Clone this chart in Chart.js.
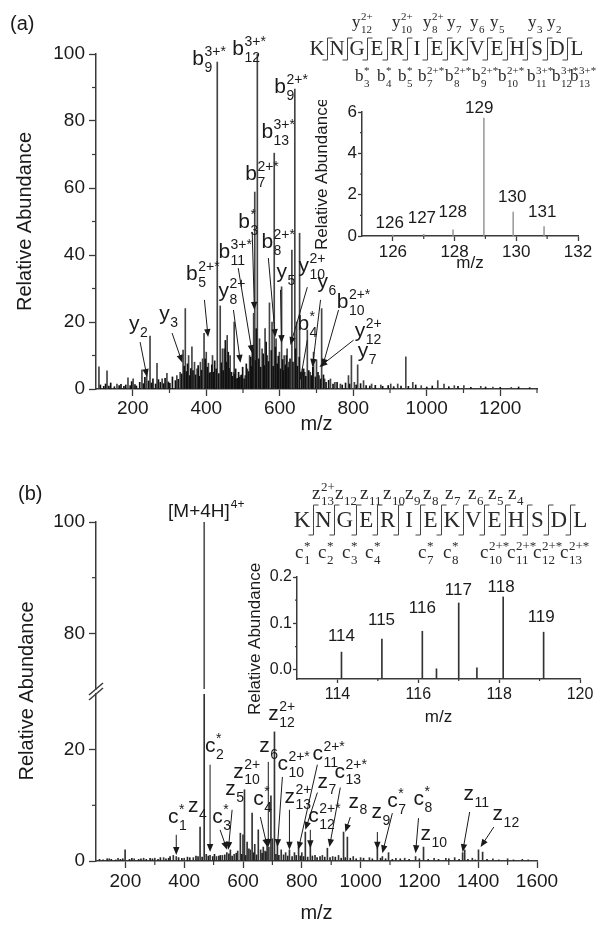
<!DOCTYPE html>
<html>
<head>
<meta charset="utf-8">
<script src="https://cdn.jsdelivr.net/npm/chart.js@4.4.1/dist/chart.umd.min.js"></script>
<style>
  body { margin: 0; background: #fff; }
  #page { position: relative; width: 604px; height: 937px; overflow: hidden; background: #fff; }
  canvas { position: absolute; }
</style>
</head>
<body>
<div id="page">
  <canvas id="mainA"></canvas>
  <canvas id="insetA"></canvas>
  <canvas id="lowerB"></canvas>
  <canvas id="upperB"></canvas>
  <canvas id="insetB"></canvas>
</div>
<script>
// ---- panel (a): ETD/CID spectrum, labelled peaks
const peakMzA = [108,130,157,187,201,225,238,247,266,280,
  293,320,329,337,343,352,361,368,375,384,
  390,394,400,406,412,417,430,438,444,449,
  457,465,474,476,482,493,506,512,518,525,
  529,532,539,545,552,560,566,572,579,585,
  590,599,605,612,620,625,633,641,646,654,
  662,668,675,683,692,700,707,714,722,738,
  750,765,787,795,803,812,828,850,875,902,
  921,943,962,985,1030,1047,1075,1101,1147,1180,
  1230];
const peakIntA = [6.6,5.4,1.5,3.3,3.0,5.7,5.0,15.8,7.7,3.0,
  4.7,4.0,5.0,11.6,24.0,10.0,12.6,8.0,6.0,8.0,
  9.0,16.6,11.0,7.7,5.0,10.0,97.6,24.8,12.0,12.0,
  16.0,10.0,5.0,20.0,3.0,4.0,4.0,6.0,10.0,12.6,
  22.6,58.8,100,15.0,12.0,18.0,10.0,25.7,20.0,70.4,
  15.0,11.0,30.5,10.0,12.0,8.0,41.5,89.5,20.0,46.5,
  6.0,5.0,17.6,5.0,11.0,8.7,4.0,24.0,3.0,3.0,
  2.0,1.5,4.0,10.0,2.0,7.2,2.5,1.5,1.2,1.5,
  1.5,9.6,2.0,1.0,2.5,1.5,1.0,1.0,0.8,0.6,
  0.5];
// baseline grass of panel (a)
const noiseMzA = [112,121,126,135,140,150,163,168,176,181,
  193,197,206,210,219,229,233,243,251,255,
  262,270,275,284,288,297,301,308,316,324,
  333,340,346,349,355,358,364,371,378,381,
  387,397,403,409,415,420,423,427,434,441,
  446,452,455,460,462,468,471,477,480,485,
  488,491,496,499,503,509,515,521,523,527,
  534,536,543,548,555,558,563,569,577,582,
  588,593,596,602,608,610,615,618,623,628,
  636,643,648,653,659,665,671,679,686,690,
  697,704,711,719,726,733,745,756,770,779,
  790,808,820,835,845,860,880,895,910,930,
  950,970,1000,1015,1060,1085,1120,1160,1200,1250,
  1280];
const noiseIntA = [1.2,0.8,1.5,0.9,1.8,0.7,1.0,1.4,0.8,1.2,
  1.0,2.2,1.3,0.9,2.0,1.6,3.5,2.4,1.8,3.0,
  1.5,2.8,2.0,1.6,3.2,2.1,1.7,3.6,2.5,2.9,
  4.5,6.8,5.2,7.5,4.0,6.1,5.5,4.2,7.0,3.8,
  5.6,9.0,6.5,4.8,7.2,5.0,8.4,6.0,4.6,7.8,
  5.5,14.5,8.0,11.0,6.2,5.0,3.8,4.5,6.0,3.2,
  5.0,3.5,4.2,6.5,3.0,7.5,5.2,9.5,6.8,12.0,
  8.5,18.0,9.0,6.5,10.5,7.0,14.0,8.2,11.5,6.8,
  12.5,7.5,9.8,6.0,8.8,5.5,7.2,10.0,6.4,9.0,
  8.0,12.0,6.8,9.5,4.5,6.0,3.8,5.5,4.0,6.5,
  3.6,5.0,3.0,4.2,2.0,2.6,1.5,2.0,1.2,1.8,
  1.5,1.2,1.6,1.0,0.9,1.1,0.8,1.0,0.7,0.9,
  0.8,1.2,0.6,0.9,0.7,0.8,0.5,0.6,0.5,0.6,
  0.4];
// reporter region inset (a)
const reporterMzA = [126.0,127.0,127.95,128.95,129.9,130.9];
const reporterIntA = [0.05,0.08,0.3,5.7,1.16,0.45];
const reporterLabelsA = ['126','127','128','129','130','131'];

// ---- panel (b)
const peakMzB = [145,175,199,230,262,300,330,363,373,400,
  431,454,468,475,488,510,530,545,557,570,
  582,591,600,605,614,620,625,631,640,652,
  660,669,675,682,688,695,700,707,717,730,
  745,758,775,789,800,812,829,845,870,887,
  905,925,942,955,975,1000,1030,1057,1074,1095,
  1120,1150,1187,1214,1250,1290,1320,1347,1354,1380,
  1401,1415,1450,1500,1550];
const peakIntB = [0.4,0.5,2.0,0.4,0.5,0.5,0.6,1.0,0.8,0.5,
  0.6,6.1,100,1.2,1.0,0.8,1.0,1.5,2.0,1.2,
  1.8,5.0,4.7,12.8,3.4,2.2,2.0,8.6,3.0,5.6,
  2.0,2.5,1.8,3.0,2.5,11.7,4.0,23.2,3.0,2.0,
  1.5,2.0,1.5,2.5,1.5,5.2,3.5,1.0,1.0,2.3,
  0.8,1.0,5.2,4.3,0.8,0.6,0.6,2.3,0.8,1.5,
  0.5,0.5,0.8,2.5,0.5,0.5,0.6,1.5,2.0,0.5,
  2.0,1.6,0.4,0.4,0.3];
const noiseMzB = [112,124,138,152,167,183,191,214,222,245,
  253,271,284,292,311,319,338,347,352,381,
  392,411,419,440,447,461,482,497,503,518,
  523,538,552,563,577,596,609,636,646,665,
  678,712,722,738,752,767,781,795,806,820,
  836,852,862,878,896,914,934,948,965,985,
  1010,1040,1068,1085,1108,1135,1165,1200,1230,1265,
  1300,1335,1365,1390,1430,1470,1520,1570];
const noiseIntB = [0.3,0.2,0.4,0.3,0.2,0.3,0.4,0.3,0.5,0.3,
  0.4,0.3,0.5,0.4,0.3,0.6,0.4,0.5,0.8,0.6,
  0.5,0.7,0.6,0.9,0.8,0.7,0.9,0.8,1.2,0.9,
  1.0,1.1,1.3,0.9,1.4,1.2,1.0,1.5,1.1,1.4,
  1.6,1.2,1.0,1.1,0.9,0.8,1.0,0.9,0.8,0.7,
  0.9,0.6,0.8,0.7,0.6,0.7,0.5,0.6,0.5,0.4,
  0.5,0.4,0.5,0.4,0.3,0.4,0.3,0.4,0.3,0.3,
  0.4,0.3,0.3,0.2,0.3,0.2,0.2,0.2];
// reporter region inset (b)
const reporterMzB = [114.1,115.1,116.1,116.45,117.0,117.45,118.1,119.1];
const reporterIntB = [0.038,0.066,0.083,0.002,0.144,0.004,0.157,0.081];
const reporterLabelsB = ['114','115','116','117','118','119'];

// ion labels: [letter, subscript, superscript], label at (m/z, abundance), optional arrow
const ionsA = [
  {ion: ['b','9','3+*'], at: [362, 96.7]},
  {ion: ['b','12','3+*'], at: [471, 99.7]},
  {ion: ['b','9','2+*'], at: [585, 88.4]},
  {ion: ['b','13','3+*'], at: [550, 74.9]},
  {ion: ['b','7','2+*'], at: [506, 62.4]},
  {ion: ['b','3','*'], at: [487, 48.1], arrow: [525, 46.9, 531, 23.6]},
  {ion: ['b','11','3+*'], at: [433, 39.1], arrow: [487, 36.1, 525, 10.7]},
  {ion: ['b','8','2+*'], at: [550, 42.1], arrow: [569, 39.1, 588, 15.5]},
  {ion: ['b','5','2+*'], at: [345, 32.5], arrow: [395, 26.6, 405, 15.5]},
  {ion: ['y','8','2+'], at: [433, 27.5], arrow: [474, 23.6, 493, 7.8]},
  {ion: ['y','5',''], at: [591, 33.1], arrow: [602, 29.6, 605, 13.7]},
  {ion: ['y','10','2+'], at: [651, 34.9], arrow: [675, 30.4, 629, 13.1]},
  {ion: ['y','6',''], at: [703, 30.1], arrow: [711, 26.6, 689, 6.6]},
  {ion: ['b','10','2+*'], at: [755, 24.2], arrow: [760, 23.6, 716, 6.6]},
  {ion: ['b','4','*'], at: [648, 17.6], arrow: [675, 14.6, 656, 2.7]},
  {ion: ['y','12','2+'], at: [804, 15.5], arrow: [801, 14.6, 708, 6.6]},
  {ion: ['y','7',''], at: [812, 9.6]},
  {ion: ['y','2',''], at: [190, 17.6], arrow: [220, 14.0, 239, 3.6]},
  {ion: ['y','3',''], at: [272, 20.6], arrow: [307, 16.7, 335, 7.8]}
];
const ionsB = [
  {ion: ['c','1','*'], at: [345, 6.8], arrow: [373, 4.7, 373, 1.1]},
  {ion: ['z','4',''], at: [413, 8.8]},
  {ion: ['c','2','*'], at: [471, 19.6], arrow: [488, 17.3, 488, 1.6]},
  {ion: ['c','3','*'], at: [495, 6.8], arrow: [522, 5.6, 546, 2.0]},
  {ion: ['z','5',''], at: [540, 11.9], arrow: [563, 9.2, 550, 2.0]},
  {ion: ['z','10','2+'], at: [567, 15.0]},
  {ion: ['c','4','*'], at: [635, 10.1], arrow: [659, 7.9, 683, 2.5]},
  {ion: ['z','6',''], at: [655, 19.5], arrow: [686, 17.8, 686, 2.5]},
  {ion: ['z','12','2+'], at: [686, 25.4]},
  {ion: ['c','10','2+*'], at: [717, 16.4], arrow: [734, 15.1, 717, 2.5]},
  {ion: ['z','13','2+'], at: [741, 10.5], arrow: [758, 9.2, 758, 2.0]},
  {ion: ['c','11','2+*'], at: [836, 18.2], arrow: [853, 17.3, 788, 2.0]},
  {ion: ['z','7',''], at: [853, 13.2], arrow: [853, 12.3, 812, 5.6]},
  {ion: ['c','12','2+*'], at: [822, 7.0], arrow: [829, 5.6, 829, 2.3]},
  {ion: ['c','13','2+*'], at: [911, 15.0], arrow: [931, 13.2, 894, 2.5]},
  {ion: ['z','8',''], at: [959, 9.6], arrow: [965, 7.9, 948, 5.2]},
  {ion: ['z','9',''], at: [1037, 7.7], arrow: [1057, 5.2, 1057, 2.0]},
  {ion: ['c','7','*'], at: [1091, 9.7], arrow: [1108, 8.6, 1074, 1.4]},
  {ion: ['c','8','*'], at: [1180, 10.1], arrow: [1197, 7.7, 1187, 1.4]},
  {ion: ['z','10',''], at: [1204, 3.8]},
  {ion: ['z','11',''], at: [1350, 11.0], arrow: [1371, 8.8, 1347, 1.6]},
  {ion: ['z','12',''], at: [1449, 7.4], arrow: [1453, 6.1, 1408, 2.5]}
];

// peptide maps
const peptide = 'KNGERIEKVEHSDL';
const seqTopA = [['y','12','2+',352],['y','10','2+',392],['y','8','2+',423],['y','7','',447],['y','6','',470],['y','5','',490],['y','3','',528],['y','2','',547]];
const seqBotA = [['b','3','*',355],['b','4','*',377],['b','5','*',398],['b','7','2+*',418],['b','8','2+*',445],['b','9','2+*',472],['b','10','2+*',498],['b','11','3+*',527],['b','12','3+*',552],['b','13','3+*',570]];
const seqTopB = [['z','13','2+',312],['z','12','',335],['z','11','',360],['z','10','',383],['z','9','',405],['z','8','',423],['z','7','',445],['z','6','',468],['z','5','',488],['z','4','',508]];
const seqBotB = [['c','1','*',295],['c','2','*',318],['c','3','*',342],['c','4','*',365],['c','7','*',418],['c','8','*',443],['c','10','2+*',480],['c','11','2+*',507],['c','12','2+*',533],['c','13','2+*',560]];

const AXIS = '#3a3a3a';
const INK = '#1a1a1a';
const SANS = '"Liberation Sans", Arial, sans-serif';
const SERIF = '"Liberation Serif", "Times New Roman", serif';

Chart.defaults.font.family = SANS;
Chart.defaults.color = INK;
Chart.defaults.animation = false;
Chart.defaults.plugins.legend.display = false;
Chart.defaults.plugins.tooltip.enabled = false;

function place(id, left, top, w, h) {
  const c = document.getElementById(id);
  c.width = w; c.height = h;
  c.style.left = left + 'px'; c.style.top = top + 'px';
  return c;
}

function sticks(mz, ab, color, base) {
  const ds = {
    data: mz.map((m, i) => ({x: m, y: ab[i]})),
    backgroundColor: color, borderWidth: 0, barThickness: 1, grouped: false, clip: 0
  };
  if (base !== undefined) ds.base = base;
  return ds;
}

function tickList(from, to, step) {
  const out = [];
  for (let v = from; v <= to + 1e-9; v += step) out.push(+v.toFixed(4));
  return out;
}

function axis(o) {
  return {
    type: 'linear', min: o.min, max: o.max, offset: false, display: o.display !== false,
    afterBuildTicks: s => { s.ticks = tickList(o.first, o.last, o.step).map(v => ({value: v})); },
    afterFit: s => { if (s.isHorizontal()) s.height = o.size; else s.width = o.size; },
    ticks: { autoSkip: false, maxRotation: 0, padding: o.pad, font: {size: o.font}, color: INK,
             callback: o.fmt || (v => v) },
    grid: { offset: false, drawOnChartArea: false, tickLength: o.tick, tickColor: AXIS, tickWidth: 1.3 },
    border: { color: AXIS, width: 1.5 },
    title: o.title ? { display: true, text: o.title, font: {size: o.tfont}, color: INK, padding: o.tpad }
                   : { display: false }
  };
}

function minorTicks(chart, id, values, len) {
  const s = chart.scales[id], ctx = chart.ctx;
  ctx.save();
  ctx.strokeStyle = AXIS; ctx.lineWidth = 1.2;
  values.forEach(v => {
    const p = s.getPixelForValue(v);
    ctx.beginPath();
    if (s.isHorizontal()) { ctx.moveTo(p, s.top); ctx.lineTo(p, s.top + len); }
    else { ctx.moveTo(s.right, p); ctx.lineTo(s.right - len, p); }
    ctx.stroke();
  });
  ctx.restore();
}

function ionText(ctx, x, y, ion, size, family) {
  ctx.textAlign = 'left'; ctx.textBaseline = 'alphabetic';
  ctx.font = size + 'px ' + family;
  ctx.fillText(ion[0], x, y);
  const w = ctx.measureText(ion[0]).width + 0.5;
  ctx.font = Math.round(size * 0.66) + 'px ' + family;
  if (ion[1]) ctx.fillText(ion[1], x + w, y + size * 0.33);
  if (ion[2]) ctx.fillText(ion[2], x + w, y - size * 0.42);
}

function arrow(ctx, x1, y1, x2, y2) {
  const a = Math.atan2(y2 - y1, x2 - x1), L = 8, W = 3.2;
  ctx.beginPath(); ctx.moveTo(x1, y1); ctx.lineTo(x2 - L * 0.6 * Math.cos(a), y2 - L * 0.6 * Math.sin(a)); ctx.stroke();
  ctx.beginPath();
  ctx.moveTo(x2, y2);
  ctx.lineTo(x2 - L * Math.cos(a) + W * Math.sin(a), y2 - L * Math.sin(a) - W * Math.cos(a));
  ctx.lineTo(x2 - L * Math.cos(a) - W * Math.sin(a), y2 - L * Math.sin(a) + W * Math.cos(a));
  ctx.closePath(); ctx.fill();
}

function drawIons(chart, list, yId, size) {
  const ctx = chart.ctx, xs = chart.scales.x, ys = chart.scales[yId];
  ctx.save();
  ctx.fillStyle = INK; ctx.strokeStyle = INK; ctx.lineWidth = 1;
  list.forEach(d => {
    ionText(ctx, xs.getPixelForValue(d.at[0]), ys.getPixelForValue(d.at[1]), d.ion, size, SANS);
    if (d.arrow) {
      const a = d.arrow;
      arrow(ctx, xs.getPixelForValue(a[0]), ys.getPixelForValue(a[1]), xs.getPixelForValue(a[2]), ys.getPixelForValue(a[3]));
    }
  });
  ctx.restore();
}

function drawSequence(ctx, s) {
  ctx.save();
  ctx.fillStyle = '#2a2a2a';
  ctx.font = s.size + 'px ' + SERIF; ctx.textAlign = 'center'; ctx.textBaseline = 'alphabetic';
  peptide.split('').forEach((ch, i) => ctx.fillText(ch, s.x0 + i * s.step, s.base));
  ctx.strokeStyle = '#444'; ctx.lineWidth = 1;
  for (let i = 0; i < peptide.length - 1; i++) {
    const x = Math.round(s.x0 + (i + 0.5) * s.step) + 0.5;
    ctx.beginPath();
    ctx.moveTo(x + s.hook, s.top); ctx.lineTo(x, s.top); ctx.lineTo(x, s.bottom); ctx.lineTo(x - s.hook, s.bottom);
    ctx.stroke();
  }
  s.above.forEach(r => ionText(ctx, r[3], s.aboveY, r, s.ionSize, SERIF));
  s.below.forEach(r => ionText(ctx, r[3], s.belowY, r, s.ionSize, SERIF));
  ctx.restore();
}

function peakLabels(chart, labels, mz, ab, size) {
  const ctx = chart.ctx, xs = chart.scales.x, ys = chart.scales.y;
  ctx.save();
  ctx.fillStyle = INK; ctx.font = size + 'px ' + SANS; ctx.textAlign = 'center'; ctx.textBaseline = 'middle';
  labels.forEach((t, i) => ctx.fillText(t, xs.getPixelForValue(mz[i]), ys.getPixelForValue(ab[i])));
  ctx.restore();
}

function verticalTitle(ctx, text, x, y, size) {
  ctx.save();
  ctx.fillStyle = INK; ctx.font = size + 'px ' + SANS;
  ctx.translate(x, y); ctx.rotate(-Math.PI / 2);
  ctx.textAlign = 'center'; ctx.textBaseline = 'middle';
  ctx.fillText(text, 0, 0);
  ctx.restore();
}

// ---------------- panel (a) main
new Chart(place('mainA', 0, 0, 604, 440), {
  type: 'bar',
  data: { datasets: [sticks(noiseMzA, noiseIntA, '#111'), sticks(peakMzA, peakIntA, '#444')] },
  options: {
    responsive: false,
    layout: { padding: { top: 54, right: 67, left: 0, bottom: 0 } },
    scales: {
      x: axis({min: 100, max: 1300, first: 200, last: 1200, step: 200, size: 51, pad: 1, tick: 7, font: 19,
               title: 'm/z', tfont: 20, tpad: {top: 0, bottom: 4}}),
      y: axis({min: 0, max: 100, first: 0, last: 100, step: 20, size: 96, pad: 4, tick: 7, font: 19,
               title: 'Relative Abundance', tfont: 20, tpad: {top: 13, bottom: 0}})
    }
  },
  plugins: [{
    id: 'extrasA',
    afterDraw(chart) {
      const ctx = chart.ctx;
      minorTicks(chart, 'x', tickList(300, 1300, 200), 4);
      minorTicks(chart, 'y', tickList(10, 90, 20), 4);
      drawIons(chart, ionsA, 'y', 21);
      ctx.save();
      ctx.fillStyle = INK; ctx.font = '20px ' + SANS; ctx.textAlign = 'left'; ctx.textBaseline = 'alphabetic';
      ctx.fillText('(a)', 10, 30);
      ctx.restore();
      drawSequence(ctx, {x0: 317, step: 20, base: 55, size: 21, top: 38, bottom: 60, hook: 5,
        above: seqTopA, aboveY: 27, below: seqBotA, belowY: 81, ionSize: 17});
    }
  }]
});

// ---------------- panel (a) inset
new Chart(place('insetA', 300, 100, 300, 174), {
  type: 'bar',
  data: { datasets: [sticks(reporterMzA, reporterIntA, '#a0a0a0')] },
  options: {
    responsive: false,
    layout: { padding: { top: 12, right: 22, left: 0, bottom: 0 } },
    scales: {
      x: axis({min: 125, max: 132, first: 126, last: 132, step: 2, size: 38, pad: 1, tick: 5, font: 17,
               title: 'm/z', tfont: 17, tpad: {top: 0, bottom: 0}}),
      y: axis({min: 0, max: 6, first: 0, last: 6, step: 2, size: 62, pad: 1, tick: 4, font: 17,
               title: 'Relative Abundance', tfont: 17, tpad: {top: 12, bottom: 0}})
    }
  },
  plugins: [{
    id: 'extrasInsetA',
    afterDraw(chart) {
      minorTicks(chart, 'x', [127, 129, 131], 3);
      minorTicks(chart, 'y', [1, 3, 5], 2);
      peakLabels(chart, reporterLabelsA, [125.9, 126.94, 127.94, 128.8, 129.87, 130.84], [0.63, 0.87, 1.16, 6.2, 1.89, 1.16], 17);
    }
  }]
});

// ---------------- panel (b), lower part of the broken axis
new Chart(place('lowerB', 0, 440, 604, 497), {
  type: 'bar',
  data: { datasets: [sticks(noiseMzB, noiseIntB, '#222'), sticks(peakMzB, peakIntB, '#333')] },
  options: {
    responsive: false,
    layout: { padding: { top: 254, right: 67, left: 0, bottom: 0 } },
    scales: {
      x: axis({min: 100, max: 1600, first: 200, last: 1600, step: 200, size: 76, pad: 2, tick: 7, font: 19,
               title: 'm/z', tfont: 20, tpad: {top: 0, bottom: 12}}),
      y: axis({min: 0, max: 30, first: 0, last: 20, step: 20, size: 96, pad: 4, tick: 7, font: 19})
    }
  },
  plugins: [{
    id: 'extrasLowerB',
    afterDraw(chart) {
      const ctx = chart.ctx;
      minorTicks(chart, 'x', tickList(300, 1500, 200), 4);
      minorTicks(chart, 'y', [10], 4);
      drawIons(chart, ionsB, 'y', 21);
      ctx.save();
      ctx.fillStyle = INK; ctx.font = '20px ' + SANS; ctx.textBaseline = 'alphabetic'; ctx.textAlign = 'left';
      ctx.fillText('(b)', 18, 60);
      ctx.restore();
      verticalTitle(ctx, 'Relative Abundance', 27, 251, 20);
      ctx.save();
      ctx.translate(0, -440);
      drawSequence(ctx, {x0: 302, step: 21.4, base: 527, size: 23, top: 505, bottom: 535, hook: 5,
        above: seqTopB, aboveY: 499, below: seqBotB, belowY: 558, ionSize: 19});
      ctx.restore();
    }
  }]
});

// ---------------- panel (b), upper part of the broken axis
new Chart(place('upperB', 0, 500, 604, 209), {
  type: 'bar',
  data: { datasets: [sticks(peakMzB, peakIntB, '#555')] },
  options: {
    responsive: false,
    layout: { padding: { top: 22, right: 67, left: 0, bottom: 20 } },
    scales: {
      x: axis({min: 100, max: 1600, first: 200, last: 1600, step: 200, size: 0, pad: 0, tick: 0, font: 19, display: false}),
      y: axis({min: 70, max: 100, first: 80, last: 100, step: 20, size: 96, pad: 4, tick: 7, font: 19})
    }
  },
  plugins: [{
    id: 'extrasUpperB',
    afterDraw(chart) {
      const ctx = chart.ctx, ys = chart.scales.y, xs = chart.scales.x;
      minorTicks(chart, 'y', [90], 4);
      const ax = ys.right, yb = chart.chartArea.bottom;
      ctx.save();
      ctx.strokeStyle = AXIS; ctx.lineWidth = 1.5;
      [[-6, 6], [-1, 11]].forEach(o => {
        ctx.beginPath(); ctx.moveTo(ax - 7, yb + o[1]); ctx.lineTo(ax + 7, yb + o[0]); ctx.stroke();
      });
      ctx.fillStyle = INK;
      const lx = xs.getPixelForValue(345), ly = ys.getPixelForValue(100.9);
      ctx.font = '19px ' + SANS; ctx.textAlign = 'left'; ctx.textBaseline = 'alphabetic';
      ctx.fillText('[M+4H]', lx, ly);
      const w = ctx.measureText('[M+4H]').width;
      ctx.font = '12px ' + SANS;
      ctx.fillText('4+', lx + w + 1, ly - 9);
      ctx.restore();
    }
  }]
});

// ---------------- panel (b) inset
new Chart(place('insetB', 240, 560, 364, 168), {
  type: 'bar',
  data: { datasets: [sticks(reporterMzB, reporterIntB, '#333', -0.02)] },
  options: {
    responsive: false,
    layout: { padding: { top: 17, right: 24, left: 0, bottom: 0 } },
    scales: {
      x: axis({min: 113, max: 120, first: 114, last: 120, step: 2, size: 49, pad: 2, tick: 4, font: 16,
               title: 'm/z', tfont: 17, tpad: {top: 0, bottom: 0}}),
      y: axis({min: -0.02, max: 0.2, first: 0, last: 0.2, step: 0.1, size: 57, pad: 1, tick: 4, font: 16,
               fmt: v => v.toFixed(1)})
    }
  },
  plugins: [{
    id: 'extrasInsetB',
    afterDraw(chart) {
      minorTicks(chart, 'x', [115, 117, 119], 2);
      minorTicks(chart, 'y', [0.05, 0.15], 2);
      peakLabels(chart, reporterLabelsB, [114.1, 115.09, 116.1, 116.99, 118.05, 119.04], [0.073, 0.107, 0.133, 0.172, 0.178, 0.112], 17);
      verticalTitle(chart.ctx, 'Relative Abundance', 15, 79, 17);
    }
  }]
});
</script>
</body>
</html>
